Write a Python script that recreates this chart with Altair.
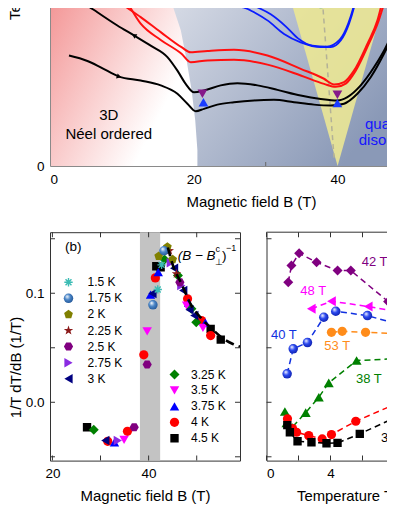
import altair as alt
import pandas as pd

FONT = "Liberation Sans"

# ======================= panel (a): T(B) sweeps, field B in T, temperature in K =======================
black_up_B = [2.64, 5.20, 7.05, 9.60, 12.61, 15.40, 17.72, 19.11, 20.26, 21.42, 23.28, 25.59,
              28.37, 31.15, 33.94, 36.72, 39.04, 40.89, 42.75, 44.60, 46.45, 48.22]
black_up_T = [3.67, 3.49, 3.28, 2.97, 2.84, 2.68, 2.40, 2.07, 1.82, 1.90, 2.04, 2.12,
              2.18, 2.20, 2.12, 2.04, 2.01, 2.07, 2.40, 2.95, 3.73, 4.62]
black_dn_B = [3.00, 4.27, 6.59, 9.37, 11.68, 14.00, 16.33, 17.72, 18.87, 20.03, 21.42, 23.74,
              26.06, 28.85, 31.63, 34.86, 37.65, 39.97, 41.36, 43.21, 45.06, 46.93, 48.22]
black_dn_T = [5.80, 5.50, 5.11, 4.67, 4.34, 4.00, 3.62, 3.17, 2.73, 2.45, 2.51, 2.68,
              2.75, 2.68, 2.53, 2.34, 2.23, 2.18, 2.29, 2.68, 3.28, 4.06, 4.80]
red_a_B = [7.90, 9.37, 12.61, 15.40, 18.29, 19.57, 21.89, 25.59, 30.24, 34.87, 38.11, 39.50,
           40.89, 42.28, 44.14, 45.54, 46.27, 46.60]
red_a_T = [5.80, 5.50, 4.95, 4.45, 3.95, 3.78, 3.82, 3.86, 3.67, 3.23, 2.90, 2.71,
           2.79, 3.17, 4.06, 4.84, 5.50, 5.80]
red_b_B = [9.60, 10.53, 12.61, 15.40, 18.29, 19.57, 21.89, 25.59, 30.24, 34.87, 38.11, 39.74,
           41.13, 42.52, 44.33, 45.72, 46.55, 46.85]
red_b_T = [5.80, 5.50, 4.73, 4.19, 3.73, 3.45, 3.51, 3.53, 3.37, 3.01, 2.73, 2.63,
           2.74, 3.17, 4.06, 4.84, 5.50, 5.80]
blue_a_B = [24.50, 25.13, 27.91, 30.24, 32.55, 34.87, 37.65, 39.04, 40.43, 41.59, 42.52, 42.80]
blue_a_T = [5.80, 5.50, 5.17, 4.84, 4.39, 4.11, 3.95, 3.95, 4.17, 4.73, 5.50, 5.80]
blue_b_B = [25.80, 26.52, 28.61, 30.70, 32.78, 34.45, 36.50, 38.50, 40.30, 41.50, 42.45, 42.75]
blue_b_T = [5.80, 5.50, 5.30, 5.04, 4.64, 4.25, 4.00, 3.97, 4.20, 4.75, 5.50, 5.80]
teal_B = [35.30, 35.80, 36.72, 37.65, 38.80, 39.50, 39.80]
teal_T = [5.80, 5.50, 5.33, 5.28, 5.33, 5.50, 5.80]

pink_B = [0.0, 21.0]
pink_T = [0.0, 5.8]
gray_edge_T = [0.0, 0.52, 1.51, 2.51, 3.51, 4.50, 5.23, 5.80]
gray_edge_B = [20.5, 20.5, 20.2, 19.7, 19.0, 18.2, 17.2, 16.4]
cone_T = [0.0, 5.5, 5.8]
cone_left_B = [40.0, 33.5, 33.15]
cone_right_B = [40.0, 46.5, 46.85]
crit_B = [39.5, 37.89]
crit_T = [0.28, 5.5]
tri_dn_B, tri_dn_T = [21.2, 39.97], [2.40, 2.37]
tri_up_B, tri_up_T = [21.34, 39.97], [2.12, 2.09]
arrow_B, arrow_T = [9.6, 11.68], [2.97, 4.34]
arrow_shape = ["triangle-right", "triangle-left"]
arrow_angle = [18, 31]

a_text = ["3D", "Néel ordered", "quantum", "disordered"]
a_text_B = [8.17, 8.17, 47.87, 47.87]
a_text_T = [1.68, 1.08, 1.41, 0.85]
a_text_color = ["black", "black", "#1515ff", "#1515ff"]

# ======================= panel (b): 1/T dT/dB vs B =======================
b_labels = ["1.5 K", "1.75 K", "2 K", "2.25 K", "2.5 K", "2.75 K", "3 K",
            "3.25 K", "3.5 K", "3.75 K", "4 K", "4.5 K"]
b_B = [
    [41.9, 42.7],
    [40.9, 43.2],
    [42.1, 43.9, 45.0],
    [44.3, 45.8],
    [37.0, 39.7, 46.5],
    [33.6, 44.6, 46.8],
    [31.0, 40.8, 45.3, 47.2, 48.5, 49.5],
    [28.6, 43.3, 46.1, 48.9, 49.9],
    [34.9, 39.7, 47.9, 51.3],
    [32.9, 40.4, 42.0, 48.3, 51.8],
    [31.5, 35.6, 39.0, 41.4, 48.1, 51.0, 52.9],
    [27.2, 41.6, 42.5, 52.9, 55.0],
]
b_y = [
    [0.1035, 0.126],
    [0.0894, 0.139],
    [0.134, 0.1425, 0.131],
    [0.139, 0.1178],
    [-0.0229, 0.0346, 0.110],
    [-0.0351, 0.128, 0.107],
    [-0.035, 0.0997, 0.123, 0.1025, 0.0848, 0.0795],
    [-0.0253, 0.131, 0.1162, 0.0857, 0.0734],
    [-0.0345, 0.0651, 0.0887, 0.0683],
    [-0.0367, 0.0988, 0.1193, 0.0915, 0.0731],
    [-0.0358, -0.0266, 0.0435, 0.1141, 0.0949, 0.075, 0.0612],
    [-0.0229, 0.1248, 0.1239, 0.0673, 0.0575],
]
fit_B = [44.0, 45.1, 46.8, 48.9, 51.0, 53.1, 55.2, 57.3, 59.0]
fit_y = [0.142, 0.125, 0.109, 0.0887, 0.0768, 0.0676, 0.0594, 0.0539, 0.0510]
band_B = [38.2, 42.4]
b_xticks = [20, 30, 40, 50]
b_xlabels = [20, 40]
y_ticks = [-0.05, 0.0, 0.05, 0.1, 0.15]
y_labels = [0.0, 0.1]

# ======================= panel (c): 1/T dT/dB vs T =======================
c_labels = ["42 T", "48 T", "40 T", "53 T", "38 T", "", "33 T"]
c_T = [
    [1.36, 1.56, 2.04, 3.13, 4.44, 5.27, 7.60],
    [2.80, 4.06, 6.36],
    [1.29, 1.67, 2.56, 3.58, 4.33, 6.31],
    [4.06, 4.73, 6.19],
    [1.15, 1.25, 1.60, 2.45, 3.27, 3.89, 5.63],
    [1.31, 1.63, 1.88, 2.64, 3.48, 4.06, 5.58],
    [1.30, 1.46, 1.94, 2.81, 3.75, 4.44, 5.83],
]
c_y = [
    [0.110, 0.1254, 0.1367, 0.1284, 0.1208, 0.1208, 0.0924],
    [0.0857, 0.0927, 0.0878],
    [0.0261, 0.049, 0.0548, 0.078, 0.0835, 0.0795],
    [0.0642, 0.0651, 0.0642],
    [-0.0085, -0.019, -0.023, -0.0095, 0.0046, 0.0178, 0.0383],
    [-0.0152, -0.0241, -0.0275, -0.0306, -0.0336, -0.0296, -0.0174],
    [-0.021, -0.0275, -0.0358, -0.0367, -0.0376, -0.0373, -0.029],
]
# where each dashed curve leaves the right edge of the cropped panel
c_edge_T = 8.15
c_edge_y = [0.0888, 0.0831, 0.0719, 0.0630, 0.0400, -0.0011, -0.0133]
c_xticks = [0, 2, 4, 6, 8]
c_xlabels = [0, 4, 8]

# ======================= styles & layout =======================
def sphere(mid, dark):
    return alt.RadialGradient(
        gradient="radial",
        stops=[alt.GradientStop(color="#ffffff", offset=0),
               alt.GradientStop(color=mid, offset=0.45),
               alt.GradientStop(color=dark, offset=1)],
        x1=0.35, y1=0.3, r1=0.0, x2=0.45, y2=0.45, r2=0.65)

ASTER = "M-1,0L1,0M0,-1L0,1M-0.71,-0.71L0.71,0.71M-0.71,0.71L0.71,-0.71"
PENTA = "M0,-1L0.951,-0.309L0.588,0.809L-0.588,0.809L-0.951,-0.309Z"
STAR = ("M0,-1L0.235,-0.324L0.951,-0.309L0.38,0.124L0.588,0.809L0,0.4L-0.588,0.809"
        "L-0.38,0.124L-0.951,-0.309L-0.235,-0.324Z")
HEXA = "M-1,0L-0.5,-0.866L0.5,-0.866L1,0L0.5,0.866L-0.5,0.866Z"

b_style = [
    dict(shape=ASTER, size=70, color="#3cbcb4", hollow=True),
    dict(shape="circle", size=90, color="#3a78c0", fill=sphere("#4a86c8", "#1d4f8f")),
    dict(shape=PENTA, size=85, color="#808000"),
    dict(shape=STAR, size=100, color="#8b1a1a"),
    dict(shape=HEXA, size=85, color="#800080"),
    dict(shape="triangle-right", size=90, color="#8a2be2"),
    dict(shape="triangle-left", size=90, color="#000080"),
    dict(shape="diamond", size=100, color="#008000"),
    dict(shape="triangle-down", size=90, color="#ff00ff"),
    dict(shape="triangle-up", size=90, color="#0000ff"),
    dict(shape="circle", size=85, color="#ff0000"),
    dict(shape="square", size=70, color="#000000"),
]
c_style = [
    dict(shape="diamond", size=100, color="#800080"),
    dict(shape="triangle-left", size=100, color="#ff00ff"),
    dict(shape="circle", size=90, color="#1030e0", fill=sphere("#2a48f0", "#0a1aa0")),
    dict(shape="circle", size=85, color="#ff8c1a"),
    dict(shape="triangle-up", size=100, color="#008000"),
    dict(shape="circle", size=85, color="#ff0000"),
    dict(shape="square", size=70, color="#000000"),
]

A_W, A_H = 347.0, 414.0
A_BMAX, A_TMAX = 48.26, 13.76
B_W, B_H = 190.0, 228.4
B_XD, Y_D = [19.5, 59.0], [-0.0535, 0.156]
C_W = 130.5
C_XD = [0.0, 8.156]

# pixel layout (page coords) of annotations in the bottom panels
B_LEFT, C_LEFT, BOT_TOP = 49.0, 265.5, 231.7
def bx(px): return B_XD[0] + (px - B_LEFT) * (B_XD[1] - B_XD[0]) / B_W
def cx(px): return C_XD[0] + (px - C_LEFT) * (C_XD[1] - C_XD[0]) / C_W
def yy(py): return Y_D[1] - (py - BOT_TOP) * (Y_D[1] - Y_D[0]) / B_H

LEG_L = dict(sym=67.5, txt=86.5, y0=281.7, dy=16.1)
LEG_R = dict(sym=173.5, txt=190.0, y0=374.0, dy=15.95)
c_label_px = [(360.7, 261.7), (299.3, 290.7), (270.0, 334.0), (323.3, 345.0), (355.0, 378.0),
              None, (380.0, 437.0)]

# ======================= panel (a) chart =======================
xa = alt.Scale(domain=[0, A_BMAX], nice=False, zero=False)
ya = alt.Scale(domain=[0, A_TMAX], nice=False, zero=False)
AXa = alt.Axis(values=[0, 20, 40], format="d", title="Magnetic field  B (T)", titleX=201,
               titlePadding=9, labelPadding=6, domainColor="#8a8a8a", ticks=False, zindex=1,
               labelFontSize=13.5, titleFontSize=15)
AYa = alt.Axis(values=[0], format="d", title="Temperature  T (K)", titleX=-31,
               titleBaseline="alphabetic", labelPadding=6, domainColor="#8a8a8a", ticks=False,
               zindex=1, labelFontSize=13.5, titleFontSize=15)
Xa = alt.X("x:Q", scale=xa, axis=AXa, stack=None)
Ya = alt.Y("y:Q", scale=ya, axis=AYa, stack=None)

def df_xy(xs, ys, **extra):
    d = {"x": xs, "y": ys}
    d.update(extra)
    return pd.DataFrame(d)

pink_grad = alt.LinearGradient(gradient="linear",
    stops=[alt.GradientStop(color="#f39393", offset=0), alt.GradientStop(color="#ffffff", offset=1)],
    x1=0, y1=0, x2=0.85, y2=0.5)
gray_grad = alt.LinearGradient(gradient="linear",
    stops=[alt.GradientStop(color="#d9dde7", offset=0), alt.GradientStop(color="#8a99b7", offset=1)],
    x1=0, y1=0, x2=1, y2=0.6)

a_layers = []
a_layers.append(alt.Chart(pd.DataFrame({"x": [pink_B[0]], "x2": [pink_B[1]], "y": [pink_T[0]], "y2": [pink_T[1]]}))
                .mark_rect(fill=pink_grad, clip=True)
                .encode(x=Xa, x2="x2:Q", y=Ya, y2="y2:Q"))
a_layers.append(alt.Chart(df_xy(gray_edge_B, gray_edge_T, x2=[A_BMAX] * len(gray_edge_T)))
                .mark_area(orient="horizontal", fill=gray_grad, clip=True)
                .encode(y=Ya, x=Xa, x2="x2:Q"))
a_layers.append(alt.Chart(df_xy(cone_left_B, cone_T, x2=cone_right_B))
                .mark_area(orient="horizontal", fill="#ebe795", opacity=0.9, clip=True)
                .encode(y=Ya, x=Xa, x2="x2:Q"))
a_layers.append(alt.Chart(df_xy(crit_B, crit_T))
                .mark_line(color="#b3b197", strokeWidth=1.5, strokeDash=[5, 4], clip=True)
                .encode(x=Xa, y=Ya))
for Bs, Ts, col, w in [(teal_B, teal_T, "#12908c", 2.0),
                       (blue_b_B, blue_b_T, "#0a1cff", 1.8), (blue_a_B, blue_a_T, "#0a1cff", 1.8),
                       (red_a_B, red_a_T, "#ff1010", 2.0), (red_b_B, red_b_T, "#ff1010", 2.0),
                       (black_dn_B, black_dn_T, "#000000", 2.0), (black_up_B, black_up_T, "#000000", 2.0)]:
    a_layers.append(alt.Chart(df_xy(Bs, Ts)).mark_line(color=col, strokeWidth=w, interpolate="monotone",
                                                       clip=True)
                    .encode(x=Xa, y=Ya))
for i in range(2):
    a_layers.append(alt.Chart(df_xy([arrow_B[i]], [arrow_T[i]]))
                    .mark_point(shape=arrow_shape[i], size=28, filled=True, color="black", opacity=1,
                                angle=arrow_angle[i])
                    .encode(x=Xa, y=Ya))
a_layers.append(alt.Chart(df_xy(tri_dn_B, tri_dn_T)).mark_point(shape="triangle-down", size=95, filled=True,
                color="#86198a", opacity=1).encode(x=Xa, y=Ya))
a_layers.append(alt.Chart(df_xy(tri_up_B, tri_up_T)).mark_point(shape="triangle-up", size=95, filled=True,
                color="#1a3cff", opacity=1).encode(x=Xa, y=Ya))
a_layers.append(alt.Chart(df_xy(a_text_B, a_text_T, t=a_text, c=a_text_color))
                .mark_text(fontSize=15, align="center", baseline="middle", font=FONT, clip=True)
                .encode(x=Xa, y=Ya, text="t:N", color=alt.Color("c:N", scale=None)))
a_layers.append(alt.Chart(pd.DataFrame({"x": [30]})).mark_tick(orient="vertical", size=4, thickness=1,
                color="#666666", yOffset=-2, opacity=1).encode(x=Xa, y=alt.value(A_H)))
top = alt.layer(*a_layers).properties(width=A_W, height=A_H,
                                      view=alt.ViewBackground(stroke="transparent"))

# ======================= panel (b) chart =======================
xb = alt.Scale(domain=B_XD, nice=False, zero=False)
yb = alt.Scale(domain=Y_D, nice=False, zero=False)
AXb = alt.Axis(values=b_xlabels, format="d", title="Magnetic field  B (T)", domain=False, ticks=False,
               labelPadding=6, titlePadding=8, labelFontSize=13.5, titleFontSize=15)
AYb = alt.Axis(values=y_labels, format=".1f", title="1/T  dT/dB  (1/T)", domain=False, ticks=False,
               labelPadding=6, titleX=-30, titleY=134.8, titleBaseline="alphabetic",
               labelFontSize=13.5, titleFontSize=15)
Xb = alt.X("x:Q", scale=xb, axis=AXb)
Yb = alt.Y("y:Q", scale=yb, axis=AYb)

def pts(df, X, Y, st):
    if st.get("hollow"):
        m = alt.Chart(df).mark_point(shape=st["shape"], size=st["size"], filled=False,
                                     color=st["color"], strokeWidth=1.4, opacity=1, clip=True)
    else:
        kw = dict(shape=st["shape"], size=st["size"], filled=True, color=st["color"], opacity=1,
                  clip=True)
        if "fill" in st:
            kw["fill"] = st["fill"]
        m = alt.Chart(df).mark_point(**kw)
    return m.encode(x=X, y=Y)

b_layers = [alt.Chart(pd.DataFrame({"x": [band_B[0]], "x2": [band_B[1]]}))
            .mark_rect(color="#c3c3c3").encode(x=Xb, x2="x2:Q", y=alt.value(0), y2=alt.value(B_H))]
for i in reversed(range(len(b_labels))):
    b_layers.append(pts(df_xy(b_B[i], b_y[i]), Xb, Yb, b_style[i]))
b_layers.append(alt.Chart(df_xy(fit_B, fit_y)).mark_line(color="black", strokeWidth=2.6,
                strokeDash=[9, 5], interpolate="monotone", clip=True).encode(x=Xb, y=Yb))
leg_x, leg_y = [], []
for i in range(len(b_labels)):
    L, k = (LEG_L, i) if i < 7 else (LEG_R, i - 7)
    py = L["y0"] + k * L["dy"]
    b_layers.append(pts(df_xy([bx(L["sym"])], [yy(py)]), Xb, Yb, b_style[i]))
    leg_x.append(bx(L["txt"]))
    leg_y.append(yy(py))
b_layers.append(alt.Chart(df_xy(leg_x, leg_y, t=b_labels))
                .mark_text(fontSize=12, align="left", baseline="middle", font=FONT, color="black")
                .encode(x=Xb, y=Yb, text="t:N"))
ann = [("(b)", 64.0, 246.7, 13.5, "normal"), ("(B − B", 176.7, 255.0, 13.5, "italic"),
       ("c", 214.5, 248.3, 9.0, "normal"), ("⊥", 214.0, 261.5, 9.0, "normal"),
       (")", 221.0, 255.0, 13.5, "normal"), ("−1", 225.0, 247.5, 9.0, "normal")]
for t, px, py, fs, sty in ann:
    b_layers.append(alt.Chart(df_xy([bx(px)], [yy(py)], t=[t]))
                    .mark_text(fontSize=fs, fontStyle=sty, align="left", baseline="middle", font=FONT,
                               color="black")
                    .encode(x=Xb, y=Yb, text="t:N"))
tick_kw = dict(size=5, thickness=1, color="#333333", opacity=1)
b_layers += [
    alt.Chart(pd.DataFrame({"x": b_xticks})).mark_tick(orient="vertical", yOffset=-2.5, **tick_kw)
        .encode(x=Xb, y=alt.value(B_H)),
    alt.Chart(pd.DataFrame({"x": b_xticks})).mark_tick(orient="vertical", yOffset=2.5, **tick_kw)
        .encode(x=Xb, y=alt.value(0)),
    alt.Chart(pd.DataFrame({"y": y_ticks})).mark_tick(orient="horizontal", xOffset=2.5, **tick_kw)
        .encode(y=Yb, x=alt.value(0)),
    alt.Chart(pd.DataFrame({"y": y_ticks})).mark_tick(orient="horizontal", xOffset=-2.5, **tick_kw)
        .encode(y=Yb, x=alt.value(B_W)),
]
panel_b = alt.layer(*b_layers).properties(width=B_W, height=B_H,
                                          view=alt.ViewBackground(stroke="#333333", strokeWidth=1))

# ======================= panel (c) chart =======================
xc = alt.Scale(domain=C_XD, nice=False, zero=False)
AXc = alt.Axis(values=c_xlabels, format="d", title="Temperature T", domain=True, domainColor="#333333",
               ticks=False, labelPadding=6, titlePadding=8, titleX=30, titleAlign="left",
               labelFontSize=13.5, titleFontSize=14.8)
AYc = alt.Axis(values=y_labels, labels=False, title=None, domain=True, domainColor="#333333", ticks=False)
Xc = alt.X("x:Q", scale=xc, axis=AXc)
Yc = alt.Y("y:Q", scale=yb, axis=AYc)
c_layers = [alt.Chart(pd.DataFrame({"x": [0]})).mark_rule(color="#333333", strokeWidth=1)
            .encode(y=alt.value(0), x=alt.value(0), x2=alt.value(C_W))]
for i in range(len(c_T)):
    st = c_style[i]
    d = df_xy(c_T[i], c_y[i])
    dl = df_xy(c_T[i] + [c_edge_T], c_y[i] + [c_edge_y[i]])
    c_layers.append(alt.Chart(dl).mark_line(color=st["color"], strokeWidth=1.5, strokeDash=[6, 4], clip=True)
                    .encode(x=Xc, y=Yc))
    c_layers.append(pts(d, Xc, Yc, st))
lab_x, lab_y, lab_t, lab_c = [], [], [], []
for i, pos in enumerate(c_label_px):
    if pos is None:
        continue
    lab_x.append(cx(pos[0])); lab_y.append(yy(pos[1])); lab_t.append(c_labels[i]); lab_c.append(c_style[i]["color"])
c_layers.append(alt.Chart(df_xy(lab_x, lab_y, t=lab_t, c=lab_c))
                .mark_text(fontSize=13, align="left", baseline="middle", font=FONT, clip=True)
                .encode(x=Xc, y=Yc, text="t:N", color=alt.Color("c:N", scale=None)))
c_layers += [
    alt.Chart(pd.DataFrame({"x": c_xticks})).mark_tick(orient="vertical", yOffset=-2.5, **tick_kw)
        .encode(x=Xc, y=alt.value(B_H)),
    alt.Chart(pd.DataFrame({"x": c_xticks})).mark_tick(orient="vertical", yOffset=2.5, **tick_kw)
        .encode(x=Xc, y=alt.value(0)),
    alt.Chart(pd.DataFrame({"y": y_ticks})).mark_tick(orient="horizontal", xOffset=2.5, **tick_kw)
        .encode(y=Yc, x=alt.value(0)),
]
panel_c = alt.layer(*c_layers).properties(width=C_W, height=B_H,
                                          view=alt.ViewBackground(stroke="transparent"))

bottom = alt.hconcat(panel_b, panel_c, spacing=26.5, bounds="flush")
chart = alt.vconcat(top, bottom, spacing=66.2, bounds="flush").properties(
    padding={"top": -257.0, "left": -2, "right": -12, "bottom": 2},
    autosize=alt.AutoSizeParams(type="pad"),
).configure(font=FONT, background="white").configure_axis(
    grid=False, labelColor="black", titleColor="black", titleFontWeight="normal",
    labelFont=FONT, titleFont=FONT)

chart.save("out.html", embed_options={"renderer": "svg", "actions": False})
